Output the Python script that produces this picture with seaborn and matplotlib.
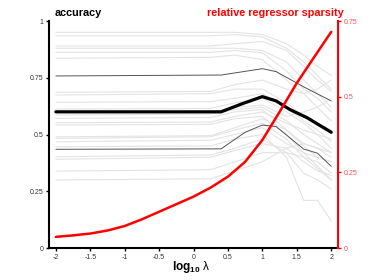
import matplotlib
matplotlib.use("Agg")
import matplotlib.pyplot as plt
import numpy as np
import pandas as pd
import seaborn as sns

sns.set_theme(style="white")
plt.rcParams["font.family"] = ["Liberation Sans", "DejaVu Sans"]
plt.rcParams["axes.unicode_minus"] = False
plt.rcParams["mathtext.fontset"] = "custom"
plt.rcParams["mathtext.rm"] = "Liberation Sans"
plt.rcParams["mathtext.bf"] = "Liberation Sans:bold"

# x grid (log10 lambda) for the individual runs
GREY_X = [-2, 0.25, 0.6, 1.0, 1.35, 1.6, 1.8, 2.0]
GREY_RUNS = [
    [0.950, 0.950, 0.950, 0.940, 0.900, 0.850, 0.800, 0.760],
    [0.935, 0.935, 0.940, 0.930, 0.880, 0.820, 0.760, 0.700],
    [0.890, 0.890, 0.900, 0.910, 0.870, 0.800, 0.740, 0.690],
    [0.880, 0.880, 0.880, 0.870, 0.820, 0.740, 0.680, 0.620],
    [0.862, 0.862, 0.870, 0.860, 0.780, 0.700, 0.660, 0.600],
    [0.836, 0.840, 0.850, 0.830, 0.740, 0.680, 0.620, 0.560],
    [0.686, 0.690, 0.720, 0.740, 0.700, 0.680, 0.700, 0.740],
    [0.674, 0.680, 0.700, 0.700, 0.640, 0.580, 0.550, 0.520],
    [0.642, 0.645, 0.660, 0.680, 0.620, 0.560, 0.520, 0.470],
    [0.612, 0.615, 0.640, 0.660, 0.600, 0.550, 0.500, 0.440],
    [0.598, 0.600, 0.620, 0.630, 0.580, 0.600, 0.620, 0.660],
    [0.586, 0.590, 0.610, 0.620, 0.560, 0.500, 0.460, 0.420],
    [0.571, 0.575, 0.600, 0.610, 0.520, 0.450, 0.400, 0.380],
    [0.552, 0.555, 0.580, 0.600, 0.550, 0.520, 0.500, 0.480],
    [0.542, 0.545, 0.570, 0.580, 0.500, 0.420, 0.360, 0.300],
    [0.490, 0.495, 0.530, 0.570, 0.520, 0.460, 0.440, 0.420],
    [0.483, 0.490, 0.520, 0.550, 0.480, 0.400, 0.350, 0.300],
    [0.468, 0.475, 0.500, 0.530, 0.460, 0.420, 0.400, 0.380],
    [0.446, 0.450, 0.480, 0.500, 0.400, 0.210, 0.210, 0.120],
    [0.402, 0.410, 0.440, 0.480, 0.420, 0.330, 0.300, 0.260],
    [0.391, 0.400, 0.430, 0.460, 0.440, 0.380, 0.340, 0.320],
    [0.339, 0.345, 0.380, 0.420, 0.420, 0.400, 0.380, 0.330],
    [0.300, 0.305, 0.340, 0.380, 0.440, 0.460, 0.440, 0.400],
]

# mean accuracy (thick) and +/- one std (thin dark)
MEAN_X = [-2, 0.4, 0.7, 1.0, 1.2, 1.4, 1.65, 2.0]
MEAN_ACC = [0.600, 0.600, 0.635, 0.667, 0.648, 0.610, 0.574, 0.510]
UPPER_X = [-2, 0.4, 1.0, 1.2, 1.6, 2.0]
UPPER_ACC = [0.758, 0.762, 0.790, 0.777, 0.710, 0.648]
LOWER_X = [-2, 0.4, 0.75, 1.0, 1.2, 1.6, 1.8, 2.0]
LOWER_ACC = [0.435, 0.437, 0.510, 0.542, 0.535, 0.436, 0.418, 0.360]

# relative regressor sparsity (right axis)
SPARSITY_X = [-2, -1.75, -1.5, -1.25, -1, -0.75, -0.5, -0.25, 0,
              0.25, 0.5, 0.75, 1, 1.25, 1.5, 1.75, 2]
SPARSITY = [0.037, 0.042, 0.048, 0.058, 0.073, 0.095, 0.120, 0.145, 0.170,
            0.200, 0.236, 0.285, 0.357, 0.450, 0.545, 0.630, 0.714]

grey = pd.DataFrame(
    [(i, x, v) for i, run in enumerate(GREY_RUNS) for x, v in zip(GREY_X, run)],
    columns=["run", "x", "acc"],
)

fig = plt.figure(figsize=(3.74, 2.8), dpi=100)
ax = fig.add_axes([0.131, 0.114, 0.773, 0.811])

sns.lineplot(data=grey, x="x", y="acc", units="run", estimator=None,
             color="#e3e3e3", linewidth=0.8, ax=ax)
sns.lineplot(x=UPPER_X, y=UPPER_ACC, color="#555555", linewidth=0.7, ax=ax)
sns.lineplot(x=LOWER_X, y=LOWER_ACC, color="#555555", linewidth=0.7, ax=ax)
sns.lineplot(x=MEAN_X, y=MEAN_ACC, color="black", linewidth=2.3, ax=ax)

ax.set_xlim(-2.1, 2.1)
ax.set_ylim(0, 1)
ax.set_xticks([-2, -1.5, -1, -0.5, 0, 0.5, 1, 1.5, 2])
ax.set_xticklabels(["-2", "-1.5", "-1", "-0.5", "0", "0.5", "1", "1.5", "2"])
ax.set_yticks([0, 0.25, 0.5, 0.75, 1])
ax.set_yticklabels(["0", "0.25", "0.5", "0.75", "1"])
ax.tick_params(axis="both", direction="out", length=2, width=1,
               labelsize=5, pad=2, colors="black", labelcolor="#333333")
ax.xaxis.set_ticks_position("bottom")
ax.yaxis.set_ticks_position("left")
ax.set_xlabel("")
ax.set_ylabel("")
for side in ["top", "right"]:
    ax.spines[side].set_visible(False)
for side in ["left", "bottom"]:
    ax.spines[side].set_color("black")
    ax.spines[side].set_linewidth(1.5)

ax2 = ax.twinx()
sns.lineplot(x=SPARSITY_X, y=SPARSITY, color="#ff0000", linewidth=1.8, ax=ax2)
ax2.set_ylim(0, 0.75)
ax2.set_yticks([0, 0.25, 0.5, 0.75])
ax2.set_yticklabels(["0", "0.25", "0.5", "0.75"])
ax2.tick_params(axis="y", direction="out", length=2, width=1, labelsize=5,
                pad=2, colors="#ff0000", labelcolor="#ff5050")
ax2.set_ylabel("")
for side in ["top", "left", "bottom"]:
    ax2.spines[side].set_visible(False)
ax2.spines["right"].set_color("#ff0000")
ax2.spines["right"].set_linewidth(1.5)

fig.text(0.147, 0.955, "accuracy", fontsize=7.8, fontweight="bold",
         color="black", ha="left", va="center")
fig.text(0.918, 0.955, "relative regressor sparsity", fontsize=7.8,
         fontweight="bold", color="#ff0000", ha="right", va="center")
fig.text(0.51, 0.045, r"$\mathbf{log}_{\mathbf{10}}$ λ", fontsize=8.5,
         color="black", ha="center", va="center")

fig.savefig("out.png", dpi=100)
